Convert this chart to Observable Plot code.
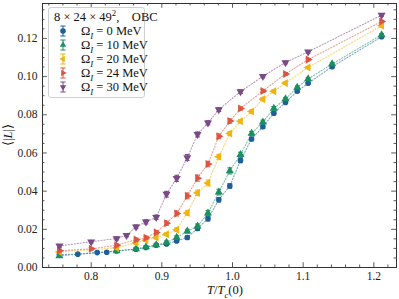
<!DOCTYPE html>
<html><head><meta charset="utf-8">
<script src="https://cdn.jsdelivr.net/npm/d3@7"></script>
<script src="https://cdn.jsdelivr.net/npm/@observablehq/plot@0.6"></script>
<style>
body{margin:0;background:#fff;}
#wrap{position:relative;width:399px;height:299px;font-family:"Liberation Serif",serif;color:#111;}
#wrap svg{display:block;}
.ov{position:absolute;white-space:nowrap;font-size:12px;line-height:1;}
#legend{position:absolute;left:48px;top:7px;width:97px;height:91px;border:1px solid #d0d0d0;border-radius:3px;background:rgba(255,255,255,0.85);box-sizing:border-box;}
#legend .t{position:absolute;white-space:nowrap;font-size:12.5px;line-height:1;}
sub,sup{font-size:0.7em;line-height:0;}
</style></head><body><div id="wrap"></div>
<script>
// ---- data ----
const seriesNames = ["0", "10", "20", "24", "30"];
const seriesColors = ["#1f5f99", "#1a8f62", "#f0b40c", "#dc5540", "#7a4a86"];
const seriesSymbols = ["circle", "triangle", "triangle", "triangle", "triangle"];
const seriesRotate = [0, 0, -90, 90, 180];

const xO0 = [0.755,0.781,0.8085,0.822,0.836,0.8635,0.8775,0.892,0.9066,0.921,0.936,0.9505,0.9653,0.9806,0.9962,1.0113,1.027,1.043,1.0585,1.075,1.0916,1.107,1.141,1.211];
const yO0 = [0.0068,0.0070,0.0078,0.0080,0.0087,0.0096,0.0105,0.0117,0.0123,0.0139,0.0157,0.0204,0.0256,0.0355,0.0427,0.0561,0.0673,0.0737,0.0808,0.0865,0.0923,0.0965,0.1052,0.1209];
const eO0 = [0.0005,0.0005,0.0005,0.0005,0.0005,0.0006,0.0006,0.0007,0.0007,0.0008,0.0009,0.0010,0.0012,0.0012,0.0012,0.0012,0.0010,0.0009,0.0008,0.0007,0.0007,0.0006,0.0006,0.0006];

const xO10 = [0.755,0.836,0.8635,0.8775,0.892,0.9066,0.921,0.936,0.9505,0.9653,0.9806,0.9962,1.0113,1.027,1.043,1.0585,1.075,1.0916,1.107,1.141,1.211];
const yO10 = [0.0061,0.0087,0.0097,0.0108,0.0118,0.0131,0.0157,0.0190,0.0216,0.0285,0.0395,0.0506,0.0591,0.0702,0.0762,0.0834,0.0883,0.0944,0.0988,0.1066,0.1219];
const eO10 = [0.0005,0.0006,0.0006,0.0007,0.0007,0.0008,0.0009,0.0010,0.0012,0.0014,0.0015,0.0016,0.0013,0.0011,0.0010,0.0009,0.0008,0.0007,0.0007,0.0006,0.0006];

const xO20 = [0.755,0.836,0.8635,0.8775,0.892,0.9066,0.921,0.936,0.9505,0.9653,0.9806,0.9962,1.0113,1.027,1.043,1.0585,1.075,1.107,1.211];
const yO20 = [0.0082,0.0103,0.0129,0.0143,0.0157,0.0174,0.0198,0.0286,0.0391,0.0443,0.0580,0.0702,0.0766,0.0817,0.0882,0.0923,0.0966,0.1048,0.1266];
const eO20 = [0.0006,0.0006,0.0007,0.0007,0.0008,0.0008,0.0010,0.0013,0.0014,0.0015,0.0013,0.0011,0.0010,0.0009,0.0008,0.0008,0.0007,0.0006,0.0006];

const xO24 = [0.755,0.80,0.836,0.8635,0.8775,0.892,0.9066,0.921,0.936,0.9505,0.9653,0.9806,0.9962,1.0113,1.043,1.075,1.107,1.211];
const yO24 = [0.0088,0.0098,0.0117,0.0146,0.0156,0.0184,0.0232,0.0283,0.0375,0.0468,0.0542,0.0687,0.0767,0.0833,0.0925,0.1014,0.1089,0.1289];
const eO24 = [0.0006,0.0006,0.0007,0.0008,0.0008,0.0009,0.0011,0.0013,0.0015,0.0016,0.0014,0.0012,0.0011,0.0009,0.0008,0.0007,0.0006,0.0006];

const xO30 = [0.755,0.80,0.836,0.850,0.8635,0.8775,0.892,0.9066,0.921,0.936,0.9505,0.9653,0.9806,1.0113,1.043,1.075,1.107,1.211];
const yO30 = [0.0113,0.0135,0.0152,0.0169,0.0213,0.0239,0.0263,0.0384,0.0467,0.0576,0.0697,0.0758,0.0827,0.0921,0.1002,0.1074,0.1130,0.1322];
const eO30 = [0.0007,0.0007,0.0008,0.0008,0.0010,0.0011,0.0012,0.0015,0.0016,0.0016,0.0013,0.0011,0.0010,0.0009,0.0008,0.0007,0.0007,0.0006];

const xMajor = [0.8, 0.9, 1.0, 1.1, 1.2];
const xMinor = [0.74,0.76,0.78,0.82,0.84,0.86,0.88,0.92,0.94,0.96,0.98,1.02,1.04,1.06,1.08,1.12,1.14,1.16,1.18,1.22];
const yMajor = [0, 0.02, 0.04, 0.06, 0.08, 0.10, 0.12];
const yMinor = [0.005,0.01,0.015,0.025,0.03,0.035,0.045,0.05,0.055,0.065,0.07,0.075,0.085,0.09,0.095,0.105,0.11,0.115,0.125,0.13,0.135];

const legendTitle = "8 × 24 × 49<sup>2</sup>,&nbsp;&nbsp;&nbsp;&nbsp;OBC";

// ---- build ----
const allX = [xO0, xO10, xO20, xO24, xO30];
const allY = [yO0, yO10, yO20, yO24, yO30];
const allE = [eO0, eO10, eO20, eO24, eO30];
const series = seriesNames.map((n, i) => allX[i].map((x, j) => ({x, y: allY[i][j], e: allE[i][j], s: n})));

const W = 399, H = 299, mL = 42, mR = 3, mT = 3, mB = 32;
const fw = W - mL - mR, fh = H - mT - mB;
const capSym = {draw(ctx) { ctx.moveTo(-2.4, 0); ctx.lineTo(2.4, 0); }};
const rDot = [2.8, 3.0, 3.0, 3.0, 3.0];

const marks = [];
series.forEach((rows, i) => {
  marks.push(Plot.line(rows, {x: "x", y: "y", stroke: seriesColors[i], strokeWidth: 1.1, strokeOpacity: 0.55, strokeDasharray: "1.2,1.8"}));
});
series.forEach((rows, i) => {
  const c = seriesColors[i];
  marks.push(Plot.ruleX(rows, {x: "x", y1: d => d.y - d.e, y2: d => d.y + d.e, stroke: c, strokeWidth: 1}));
  marks.push(Plot.dot(rows, {x: "x", y: d => d.y + d.e, symbol: capSym, stroke: c, strokeWidth: 1, r: 3}));
  marks.push(Plot.dot(rows, {x: "x", y: d => d.y - d.e, symbol: capSym, stroke: c, strokeWidth: 1, r: 3}));
  marks.push(Plot.dot(rows, {x: "x", y: "y", symbol: seriesSymbols[i], rotate: seriesRotate[i], fill: c, r: rDot[i], stroke: "none"}));
});

const plot = Plot.plot({
  width: W, height: H, marginLeft: mL, marginRight: mR, marginTop: mT, marginBottom: mB,
  style: {fontFamily: "'Liberation Serif', serif", fontSize: "11.5px", color: "#111", background: "#fff"},
  x: {domain: [0.7311, 1.2321]},
  y: {domain: [0, 0.1383]},
  marks: [
    ...marks,
    Plot.tickX(xMajor, {x: d => d, insetTop: fh - 4.8, stroke: "#333", strokeWidth: 0.8}),
    Plot.tickX(xMajor, {x: d => d, insetBottom: fh - 4.8, stroke: "#333", strokeWidth: 0.8}),
    Plot.tickX(xMinor, {x: d => d, insetTop: fh - 2.5, stroke: "#333", strokeWidth: 0.8}),
    Plot.tickX(xMinor, {x: d => d, insetBottom: fh - 2.5, stroke: "#333", strokeWidth: 0.8}),
    Plot.tickY(yMajor, {y: d => d, insetRight: fw - 4.8, stroke: "#333", strokeWidth: 0.8}),
    Plot.tickY(yMajor, {y: d => d, insetLeft: fw - 4.8, stroke: "#333", strokeWidth: 0.8}),
    Plot.tickY(yMinor, {y: d => d, insetRight: fw - 2.5, stroke: "#333", strokeWidth: 0.8}),
    Plot.tickY(yMinor, {y: d => d, insetLeft: fw - 2.5, stroke: "#333", strokeWidth: 0.8}),
    Plot.axisX(xMajor, {tickSize: 0, tickPadding: 4, tickFormat: d3.format(".1f"), label: null, fill: "#222"}),
    Plot.axisY(yMajor, {tickSize: 0, tickPadding: 5, tickFormat: d3.format(".2f"), label: null, fill: "#222"}),
    Plot.frame({stroke: "#333", strokeWidth: 1})
  ]
});
const wrap = document.getElementById("wrap");
wrap.appendChild(plot);

// axis labels
const xl = document.createElement("div");
xl.className = "ov";
xl.style.cssText = "left:225px;top:284px;transform:translateX(-50%);font-size:12.5px;";
xl.innerHTML = "<i>T</i>/<i>T</i><sub><i>c</i></sub>(0)";
wrap.appendChild(xl);
const yl = document.createElement("div");
yl.className = "ov";
yl.style.cssText = "left:8px;top:135px;transform:translate(-50%,-50%) rotate(-90deg);font-size:12.5px;";
yl.innerHTML = "⟨|<i>L</i>|⟩";
wrap.appendChild(yl);

// legend
const lg = document.createElement("div");
lg.id = "legend";
wrap.appendChild(lg);
const tt = document.createElement("div");
tt.className = "t";
tt.style.cssText = "left:5px;top:3px;";
tt.innerHTML = legendTitle;
lg.appendChild(tt);
seriesNames.forEach((n, i) => {
  const cy = 23 + i * 14.1;
  const svg = d3.select(lg).append("svg").attr("width", 16).attr("height", 16)
    .style("position", "absolute").style("left", "6px").style("top", (cy - 8) + "px");
  const c = seriesColors[i];
  svg.append("line").attr("x1", 8).attr("x2", 8).attr("y1", 3).attr("y2", 13).attr("stroke", c).attr("stroke-width", 1);
  svg.append("line").attr("x1", 5.4).attr("x2", 10.6).attr("y1", 3).attr("y2", 3).attr("stroke", c).attr("stroke-width", 1);
  svg.append("line").attr("x1", 5.4).attr("x2", 10.6).attr("y1", 13).attr("y2", 13).attr("stroke", c).attr("stroke-width", 1);
  const sym = i === 0 ? d3.symbolCircle : d3.symbolTriangle2;
  const r = rDot[i];
  svg.append("path").attr("d", d3.symbol(sym, Math.PI * r * r)())
    .attr("transform", `translate(8,8) rotate(${seriesRotate[i]})`).attr("fill", c);
  const t = document.createElement("div");
  t.className = "t";
  t.style.cssText = `left:32px;top:${cy - 6.5}px;`;
  t.innerHTML = `Ω<sub><i>I</i></sub> = ${n} MeV`;
  lg.appendChild(t);
});
</script></body></html>
